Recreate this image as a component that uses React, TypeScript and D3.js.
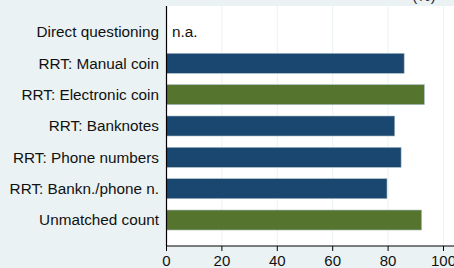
import * as d3 from 'd3'

const CATEGORIES = [
  'Direct questioning',
  'RRT: Manual coin',
  'RRT: Electronic coin',
  'RRT: Banknotes',
  'RRT: Phone numbers',
  'RRT: Bankn./phone n.',
  'Unmatched count',
]
const VALUES: (number | null)[] = [null, 85.8, 93.1, 82.4, 84.7, 79.6, 92.1]
const GROUPS = ['blue', 'blue', 'green', 'blue', 'blue', 'blue', 'green']
const X_TICKS = [0, 20, 40, 60, 80, 100]

const COLORS: Record<string, string> = { blue: '#1a476f', green: '#55752f' }

export default function App() {
  const width = 454
  const height = 268
  const left = 166.5
  const right = 443.5
  const top = 6
  const bottom = 246

  const x = d3.scaleLinear([0, 100], [left, right])
  const y = d3.scaleBand(CATEGORIES, [top, bottom]).paddingInner(0.362).paddingOuter(0.51)

  return (
    <svg
      width={width}
      height={height}
      style={{ position: 'absolute', left: 0, top: 0, fontFamily: 'Liberation Sans, Arial, sans-serif' }}
    >
      <rect x={0} y={0} width={width} height={height} fill="#eaf2f3" />
      <rect x={left} y={top} width={width - left} height={bottom - top} fill="#ffffff" />
      <text x={424} y={0.5} textAnchor="middle" fontSize={15} fill="#1a2a3a">(%)</text>
      {X_TICKS.slice(1).map((t) => (
        <line key={t} x1={x(t)} x2={x(t)} y1={top} y2={bottom} stroke="#eaf2f3" strokeWidth={1} />
      ))}
      {CATEGORIES.map((c, i) => {
        const v = VALUES[i]
        const yc = (y(c) ?? 0) + y.bandwidth() / 2
        return (
          <g key={c}>
            <text x={159} y={yc + 5.3} textAnchor="end" fontSize={15.3} fill="#111">{c}</text>
            {v == null ? (
              <text x={172} y={yc + 5.3} fontSize={15.3} fill="#111">n.a.</text>
            ) : (
              <rect
                x={x(0)}
                y={y(c)}
                width={x(v) - x(0)}
                height={y.bandwidth()}
                fill={COLORS[GROUPS[i]]}
                stroke="#a9bcc4"
                strokeWidth={0.6}
              />
            )}
          </g>
        )
      })}
      <line x1={left} x2={left} y1={top} y2={bottom} stroke="#000" strokeWidth={1.2} />
      <line x1={left} x2={width} y1={bottom} y2={bottom} stroke="#000" strokeWidth={1.2} />
      {X_TICKS.map((t) => (
        <g key={t}>
          <line x1={x(t)} x2={x(t)} y1={bottom} y2={bottom + 5} stroke="#000" strokeWidth={1} />
          <text x={x(t)} y={266} textAnchor="middle" fontSize={15} fill="#111">{t}</text>
        </g>
      ))}
    </svg>
  )
}
